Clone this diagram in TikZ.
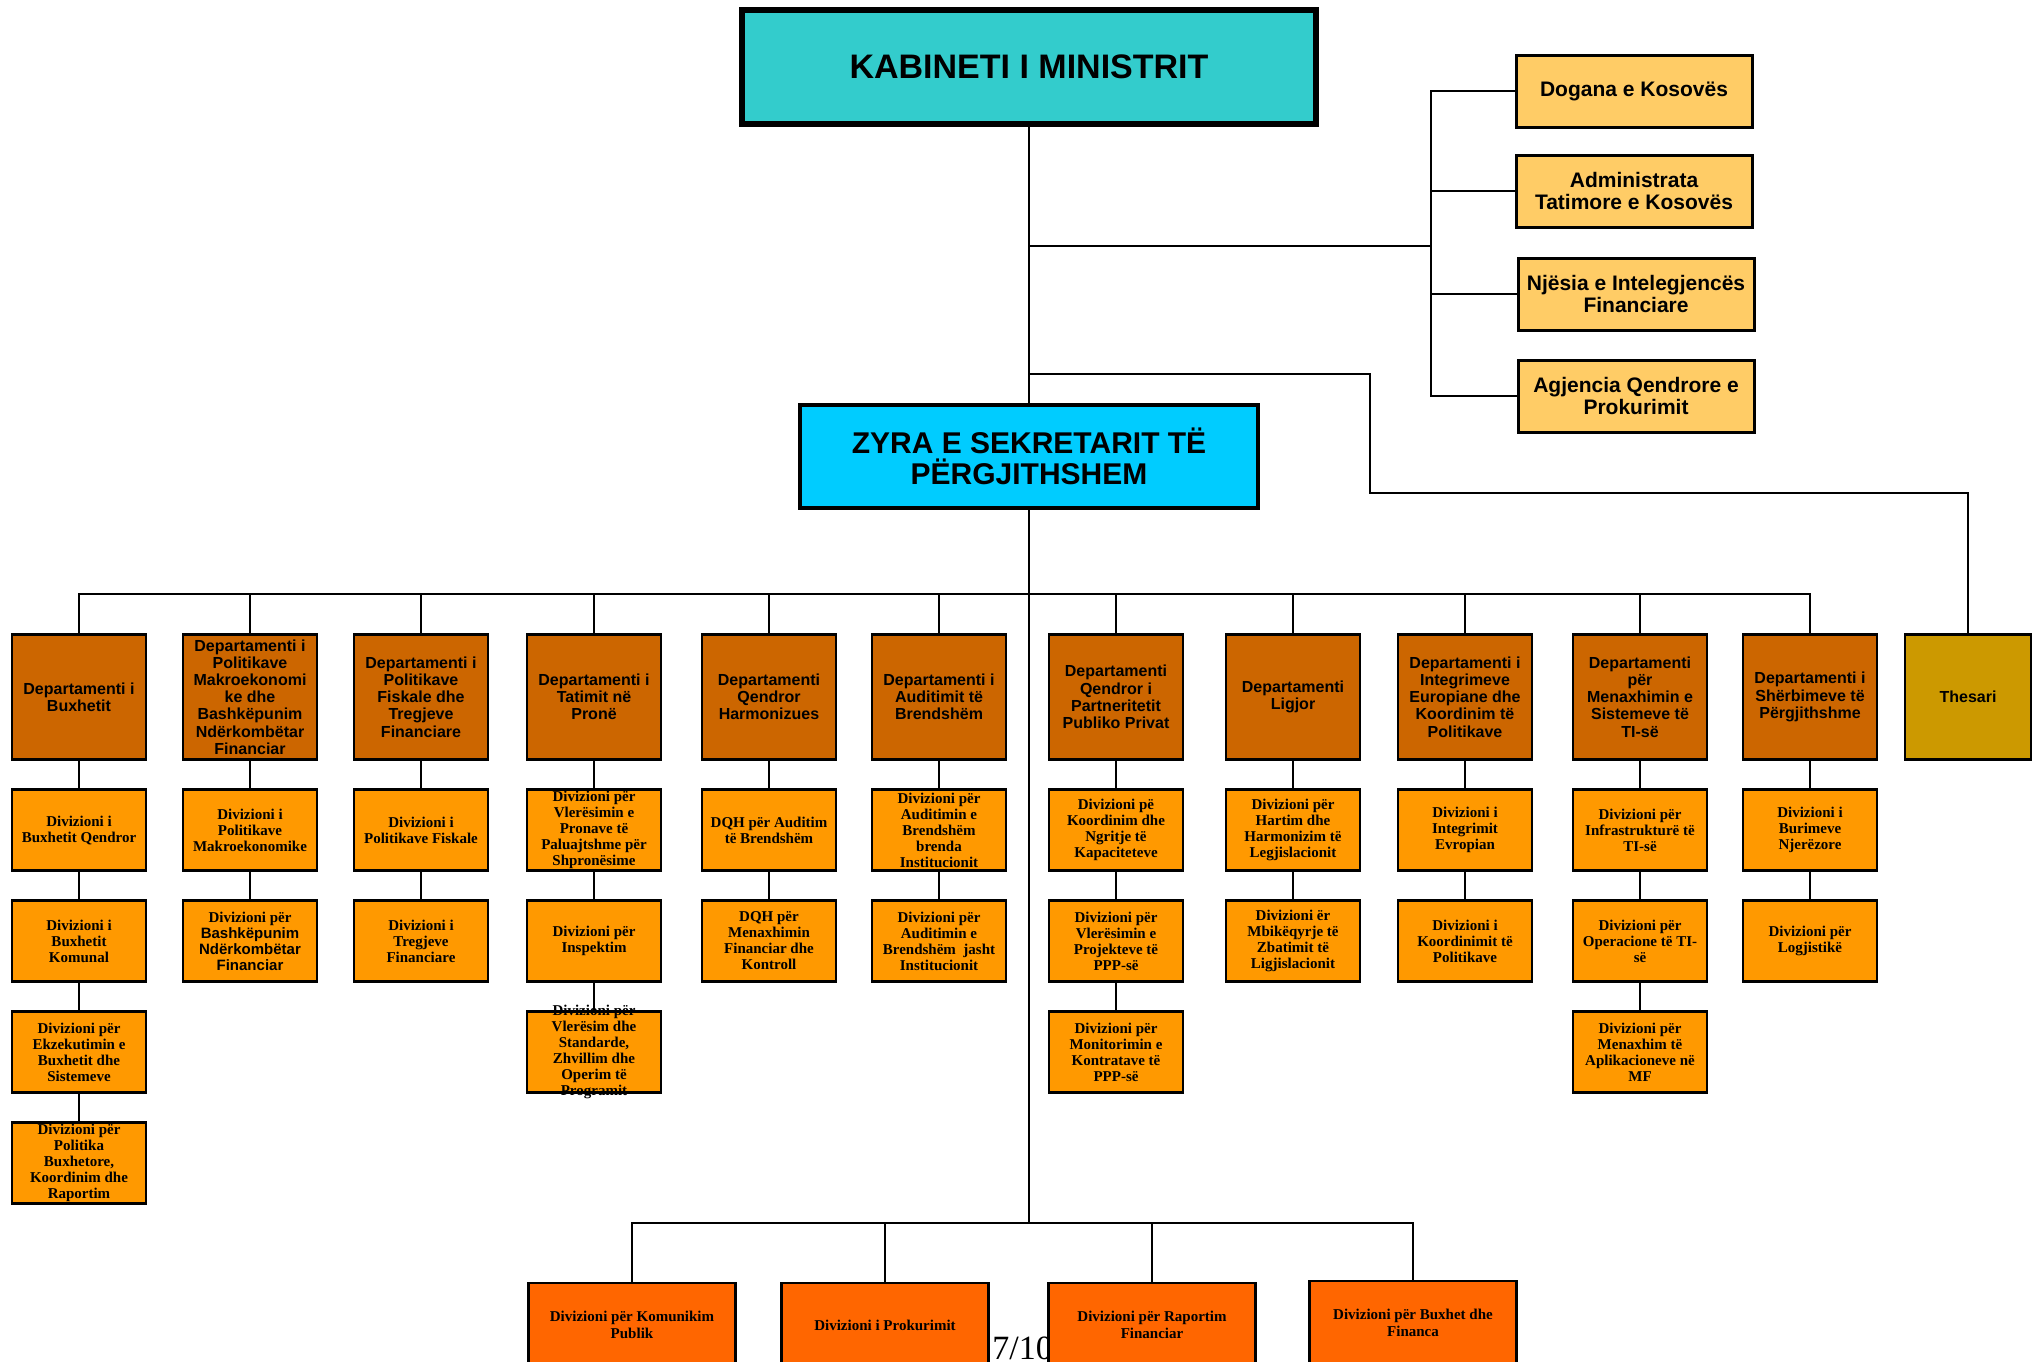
\documentclass[tikz,border=0pt]{standalone}
\usepackage{fontspec}
\setmainfont{Liberation Serif}
\setsansfont{Liberation Sans}
\usepackage{tikz}
\usetikzlibrary{positioning}
\usepackage{xcolor}
\definecolor{kabcol}{HTML}{33CCCC}
\definecolor{zyracol}{HTML}{00CCFF}
\definecolor{agcol}{HTML}{FFCC66}
\definecolor{depcol}{HTML}{CC6600}
\definecolor{divcol}{HTML}{FF9900}
\definecolor{thescol}{HTML}{CC9900}
\definecolor{botcol}{HTML}{FF6600}

\begin{document}
\begin{tikzpicture}[x=0.5pt,y=-0.5pt,
  box/.style={draw=black, align=center, inner sep=0.5pt},
  kabbox/.style={box, fill=kabcol, line width=2.8pt, minimum width=287pt, minimum height=57pt, font=\sffamily\bfseries\fontsize{17}{18}\selectfont},
  zyrabox/.style={box, fill=zyracol, line width=2pt, minimum width=229pt, minimum height=51.5pt, font=\sffamily\bfseries\fontsize{15}{15.5}\selectfont},
  agbox/.style={box, fill=agcol, line width=1.5pt, minimum width=118pt, minimum height=36pt, font=\sffamily\bfseries\fontsize{10.5}{11}\selectfont},
  depbox/.style={box, fill=depcol, line width=1.4pt, minimum width=67pt, minimum height=62.5pt, font=\sffamily\bfseries\fontsize{8}{8.6}\selectfont},
  thesbox/.style={depbox, fill=thescol, minimum width=63pt},
  divbox/.style={box, fill=divcol, line width=1.3pt, minimum width=67pt, minimum height=40.7pt, font=\bfseries\fontsize{7.5}{8}\selectfont},
  divtxt/.style={align=center, inner sep=0pt, font=\bfseries\fontsize{7.5}{8}\selectfont},
  botbox/.style={box, fill=botcol, line width=1.2pt, minimum width=103.5pt, minimum height=42pt, font=\bfseries\fontsize{7.5}{8.5}\selectfont},
  conn/.style={draw=black, line width=0.8pt}]

\useasboundingbox (0,0) rectangle (2034,1361);

% top of the chart
\node[kabbox] (kab) at (1029,67) {KABINETI I MINISTRIT};
\node[zyrabox] (zyra) at (1029,456) {ZYRA E SEKRETARIT TË\\PËRGJITHSHEM};

% agencies
\node[agbox] (ag1) at (1634,91) {Dogana e Kosovës};
\node[agbox] (ag2) at (1634,191) {Administrata\\Tatimore e Kosovës};
\node[agbox] (ag3) at (1636,294) {Njësia e Intelegjencës\\Financiare};
\node[agbox] (ag4) at (1636,396) {Agjencia Qendrore e\\Prokurimit};

% departments
\node[depbox] (d1) at (79,697) {Departamenti i\\Buxhetit};
\node[depbox] (d2) at (250,697) {Departamenti i\\Politikave\\Makroekonomi\\ke dhe\\Bashkëpunim\\Ndërkombëtar\\Financiar};
\node[depbox] (d3) at (421,697) {Departamenti i\\Politikave\\Fiskale dhe\\Tregjeve\\Financiare};
\node[depbox] (d4) at (594,697) {Departamenti i\\Tatimit në\\Pronë};
\node[depbox] (d5) at (769,697) {Departamenti\\Qendror\\Harmonizues};
\node[depbox] (d6) at (939,697) {Departamenti i\\Auditimit të\\Brendshëm};
\node[depbox] (d7) at (1116,697) {Departamenti\\Qendror i\\Partneritetit\\Publiko Privat};
\node[depbox] (d8) at (1293,697) {Departamenti\\Ligjor};
\node[depbox] (d9) at (1465,697) {Departamenti i\\Integrimeve\\Europiane dhe\\Koordinim të\\Politikave};
\node[depbox] (d10) at (1640,697) {Departamenti\\për\\Menaxhimin e\\Sistemeve të\\TI-së};
\node[depbox] (d11) at (1810,697) {Departamenti i\\Shërbimeve të\\Përgjithshme};
\node[thesbox] (thes) at (1968,697) {Thesari};

% divisions
\node[divbox] (v11) at (79,830) {Divizioni i\\Buxhetit Qendror};
\node[divbox] (v12) at (79,941) {Divizioni i\\Buxhetit\\Komunal};
\node[divbox] (v13) at (79,1052) {Divizioni për\\Ekzekutimin e\\Buxhetit dhe\\Sistemeve};
\node[divbox] (v14) at (79,1163) {Divizioni për\\Politika\\Buxhetore,\\Koordinim dhe\\Raportim};

\node[divbox] (v21) at (250,830) {Divizioni i\\Politikave\\Makroekonomike};
\node[divbox] (v22) at (250,941) {Divizioni për\\\sffamily Bashkëpunim\\\sffamily Ndërkombëtar\\\sffamily Financiar};

\node[divbox] (v31) at (421,830) {Divizioni i\\Politikave Fiskale};
\node[divbox] (v32) at (421,941) {Divizioni i\\Tregjeve\\Financiare};

\node[divbox] (v41) at (594,830) {Divizioni për\\Vlerësimin e\\Pronave të\\Paluajtshme për\\Shpronësime};
\node[divbox] (v42) at (594,941) {Divizioni për\\Inspektim};
\node[divbox] (v43) at (594,1052) {};
\node[divtxt] (v43t) at (v43) {Divizioni për\\Vlerësim dhe\\Standarde,\\Zhvillim dhe\\Operim të\\Programit};

\node[divbox] (v51) at (769,830) {DQH për Auditim\\të Brendshëm};
\node[divbox] (v52) at (769,941) {DQH për\\Menaxhimin\\Financiar dhe\\Kontroll};

\node[divbox] (v61) at (939,830) {Divizioni për\\Auditimin e\\Brendshëm\\brenda\\Institucionit};
\node[divbox] (v62) at (939,941) {Divizioni për\\Auditimin e\\Brendshëm\ \ jasht\\Institucionit};

\node[divbox] (v71) at (1116,830) {Divizioni pë\\Koordinim dhe\\Ngritje të\\Kapaciteteve};
\node[divbox] (v72) at (1116,941) {Divizioni për\\Vlerësimin e\\Projekteve të\\PPP-së};
\node[divbox] (v73) at (1116,1052) {Divizioni për\\Monitorimin e\\Kontratave të\\PPP-së};

\node[divbox] (v81) at (1293,830) {Divizioni për\\Hartim dhe\\Harmonizim të\\Legjislacionit};
\node[divbox] (v82) at (1293,941) {Divizioni ër\\Mbikëqyrje të\\Zbatimit të\\Ligjislacionit};

\node[divbox] (v91) at (1465,830) {Divizioni i\\Integrimit\\Evropian};
\node[divbox] (v92) at (1465,941) {Divizioni i\\Koordinimit të\\Politikave};

\node[divbox] (v101) at (1640,830) {Divizioni për\\Infrastrukturë të\\TI-së};
\node[divbox] (v102) at (1640,941) {Divizioni për\\Operacione të TI-\\së};
\node[divbox] (v103) at (1640,1052) {Divizioni për\\Menaxhim të\\Aplikacioneve në\\MF};

\node[divbox] (v111) at (1810,830) {Divizioni i\\Burimeve\\Njerëzore};
\node[divbox] (v112) at (1810,941) {Divizioni për\\Logjistikë};

% page number, partly under the boxes
\node[anchor=base west, inner sep=0pt, font=\fontsize{17}{17}\selectfont] (pagenum) at (992,1359) {7/10};

% bottom divisions
\node[botbox] (b1) at (632,1325) {Divizioni për Komunikim\\Publik};
\node[botbox] (b2) at (885,1325) {Divizioni i Prokurimit};
\node[botbox] (b3) at (1152,1325) {Divizioni për Raportim\\Financiar};
\node[botbox] (b4) at (1413,1323) {Divizioni për Buxhet dhe\\Financa};

% points on the lines
\coordinate (agjoin) at (1029,246);
\coordinate (agbus) at (1431,246);
\coordinate (tjoin) at (1029,374);
\coordinate (tbend) at (1370,493);
\coordinate (bus) at (1029,594);
\coordinate (lowbus) at (1029,1223);

% lines
\draw[conn] (kab) -- (zyra);
\draw[conn] (agjoin) -- (agbus);
\draw[conn] (ag1.west) -| (agbus);
\draw[conn] (ag2.west) -| (agbus);
\draw[conn] (ag3.west) -| (agbus);
\draw[conn] (ag4.west) -| (agbus);
\draw[conn] (tjoin) -| (tbend) -| (thes.north);
\draw[conn] (zyra) -- (lowbus);

\draw[conn] (d1.north) |- (bus);
\draw[conn] (d2.north) |- (bus);
\draw[conn] (d3.north) |- (bus);
\draw[conn] (d4.north) |- (bus);
\draw[conn] (d5.north) |- (bus);
\draw[conn] (d6.north) |- (bus);
\draw[conn] (d7.north) |- (bus);
\draw[conn] (d8.north) |- (bus);
\draw[conn] (d9.north) |- (bus);
\draw[conn] (d10.north) |- (bus);
\draw[conn] (d11.north) |- (bus);

\draw[conn] (d1) -- (v11) (v11) -- (v12) (v12) -- (v13) (v13) -- (v14);
\draw[conn] (d2) -- (v21) (v21) -- (v22);
\draw[conn] (d3) -- (v31) (v31) -- (v32);
\draw[conn] (d4) -- (v41) (v41) -- (v42) (v42) -- (v43);
\draw[conn] (d5) -- (v51) (v51) -- (v52);
\draw[conn] (d6) -- (v61) (v61) -- (v62);
\draw[conn] (d7) -- (v71) (v71) -- (v72) (v72) -- (v73);
\draw[conn] (d8) -- (v81) (v81) -- (v82);
\draw[conn] (d9) -- (v91) (v91) -- (v92);
\draw[conn] (d10) -- (v101) (v101) -- (v102) (v102) -- (v103);
\draw[conn] (d11) -- (v111) (v111) -- (v112);

\draw[conn] (b1.north) |- (lowbus);
\draw[conn] (b2.north) |- (lowbus);
\draw[conn] (b3.north) |- (lowbus);
\draw[conn] (b4.north) |- (lowbus);

\end{tikzpicture}
\end{document}
